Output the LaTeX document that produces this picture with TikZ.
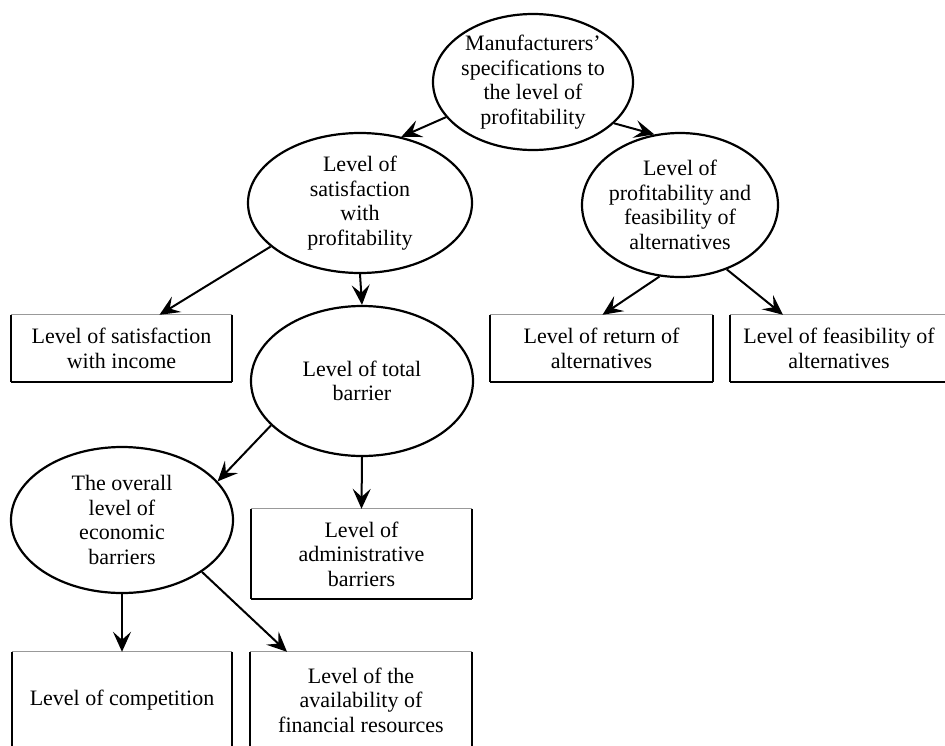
\documentclass[tikz,border=0pt]{standalone}
\usepackage{fontspec}
\setmainfont{Liberation Serif}
\usetikzlibrary{shapes,arrows.meta}
\tikzset{
  ell/.style={ellipse, draw, line width=2.2pt, inner sep=-40pt, align=center,
    font=\fontsize{22}{24.5}\selectfont},
  lbox/.style={rectangle, inner sep=0pt, align=center,
    font=\fontsize{22}{24.5}\selectfont},
  arr/.style={line width=2pt, -{Stealth[length=20pt,width=18pt,inset=8pt]}},
  side/.style={line width=2.2pt},
  topline/.style={line width=1pt, black!40},
  botline/.style={line width=1.6pt},
}
\begin{document}
\begin{tikzpicture}[x=1pt,y=-1pt]
\useasboundingbox (0,0) rectangle (945,745);
\clip (0,0) rectangle (945,745);
% ellipses
\node[ell, minimum width=200pt, minimum height=136pt] (top) at (533,82) {Manufacturers'\\specifications to\\the level of\\profitability};
\node[ell, minimum width=224pt, minimum height=140pt] (sat) at (360,203) {Level of\\satisfaction\\with\\profitability};
\node[ell, minimum width=196pt, minimum height=144pt] (alt) at (680,205) {Level of\\profitability and\\feasibility of\\alternatives};
\node[ell, minimum width=222pt, minimum height=150pt] (total) at (362,381) {Level of total\\barrier};
\node[ell, minimum width=222pt, minimum height=146pt] (econ) at (122,520) {The overall\\level of\\economic\\barriers};
% boxes
\node[lbox, minimum width=221pt, minimum height=67pt] (income) at (121.5,348.5) {Level of satisfaction\\with income};
\node[lbox, minimum width=223pt, minimum height=67pt] (ret) at (601.5,348.5) {Level of return of\\alternatives};
\node[lbox, minimum width=218pt, minimum height=67pt] (feas) at (839,348.5) {Level of feasibility of\\alternatives};
\node[lbox, minimum width=221pt, minimum height=90pt] (admin) at (361.5,554) {Level of\\administrative\\barriers};
\node[lbox, minimum width=220pt, minimum height=96pt] (comp) at (122,700) {Level of competition};
\node[lbox, minimum width=222pt, minimum height=96pt] (fin) at (361,700) {Level of the\\availability of\\financial resources};
\foreach \b in {income,ret,feas,admin,comp,fin} {
  \draw[topline] (\b.north west) -- (\b.north east);
  \draw[botline] (\b.south west) -- (\b.south east);
  \draw[side] (\b.north west) -- (\b.south west);
  \draw[side] (\b.north east) -- (\b.south east);
}
% arrows
\draw[arr] (top.202) -- (sat.58);
\draw[arr] (top.-27) -- (alt.110);
\draw[arr] (sat.206) -- ([xshift=38pt]income.north);
\draw[arr] (sat.south) -- (total.north);
\draw[arr] (alt.-106) -- ([xshift=1pt]ret.north);
\draw[arr] (alt.-54) -- ([xshift=-56pt]feas.north);
\draw[arr] (total.206) -- (econ.22);
\draw[arr] (total.south) -- (admin.north);
\draw[arr] (econ.south) -- (comp.north);
\draw[arr] (econ.-33) -- ([xshift=-74pt]fin.north);
\end{tikzpicture}
\end{document}
